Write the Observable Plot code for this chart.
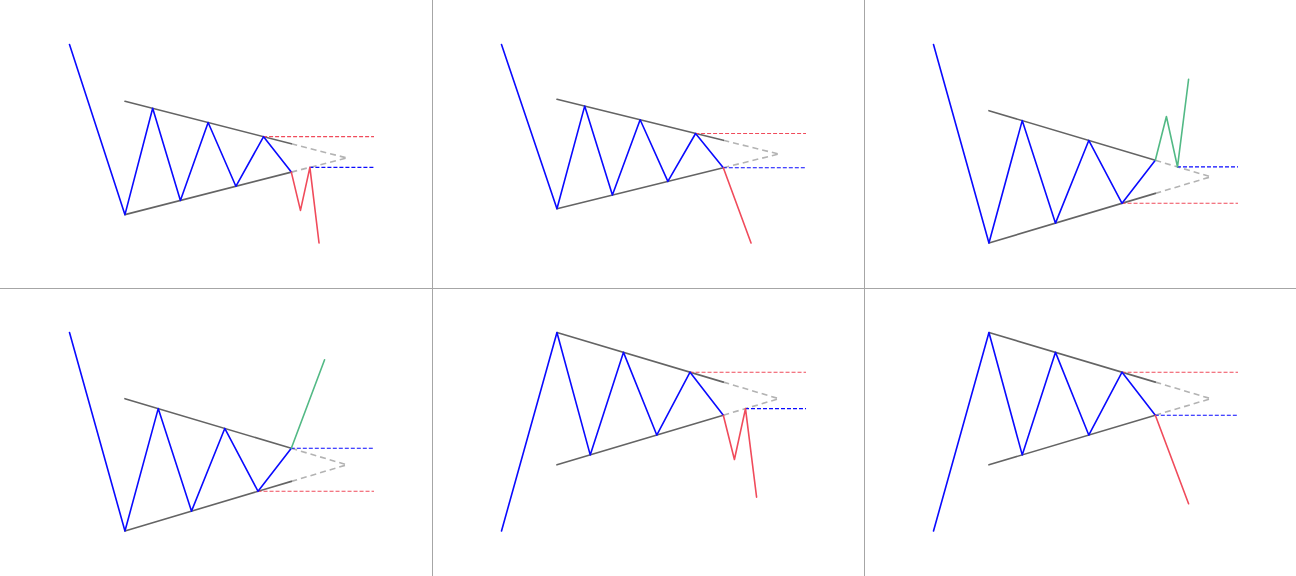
<!DOCTYPE html>
<html>
<head>
<meta charset="utf-8">
<script src="https://cdn.jsdelivr.net/npm/d3@7"></script>
<script src="https://cdn.jsdelivr.net/npm/@observablehq/plot@0.6"></script>
<style>
  html, body { margin: 0; padding: 0; background: #fff; }
  #wrap { position: relative; width: 1296px; height: 576px; overflow: hidden; background: #fff; }
  #wrap svg { position: absolute; }
  .sep { position: absolute; background: #a6a6a6; }
</style>
</head>
<body>
<div id="wrap"></div>
<script>
// ---- Panel 1 (top left): symmetrical triangle, bearish break with retest
const p1PathX = [0, 2, 3, 4, 5, 6, 7, 8];
const p1PathY = [16, -8, 7, -6, 5, -4, 3, -2];
const p1BreakX = [8, 8.33, 8.67, 9];
const p1BreakY = [-2, -7.4, -1.33, -12];
const p1BreakColor = "red";
const p1Levels = [ {y: 3, x1: 7, x2: 11, c: "red"}, {y: -1.33, x1: 8.67, x2: 11, c: "blue"} ];

// ---- Panel 2 (top middle): bearish break, no retest
const p2PathX = [0, 2, 3, 4, 5, 6, 7, 8];
const p2PathY = [16, -8, 7, -6, 5, -4, 3, -2];
const p2BreakX = [8, 9];
const p2BreakY = [-2, -13];
const p2BreakColor = "red";
const p2Levels = [ {y: 3, x1: 7, x2: 11, c: "red"}, {y: -2, x1: 8, x2: 11, c: "blue"} ];

// ---- Panel 3 (top right): bullish break with retest
const p3PathX = [0, 2, 3.2, 4.4, 5.6, 6.8, 8];
const p3PathY = [16, -8, 6.8, -5.6, 4.4, -3.2, 2];
const p3BreakX = [8, 8.4, 8.8, 9.2];
const p3BreakY = [2, 7.3, 1.2, 11.8];
const p3BreakColor = "green";
const p3Levels = [ {y: 1.2, x1: 8.8, x2: 11, c: "blue"}, {y: -3.2, x1: 6.8, x2: 11, c: "red"} ];

// ---- Panel 4 (bottom left): bullish break, no retest
const p4PathX = [0, 2, 3.2, 4.4, 5.6, 6.8, 8];
const p4PathY = [16, -8, 6.8, -5.6, 4.4, -3.2, 2];
const p4BreakX = [8, 9.2];
const p4BreakY = [2, 12.7];
const p4BreakColor = "green";
const p4Levels = [ {y: 2, x1: 8, x2: 11, c: "blue"}, {y: -3.2, x1: 6.8, x2: 11, c: "red"} ];

// ---- Panel 5 (bottom middle): uptrend into triangle, bearish break with retest
const p5PathX = [0, 2, 3.2, 4.4, 5.6, 6.8, 8];
const p5PathY = [-16, 8, -6.8, 5.6, -4.4, 3.2, -2];
const p5BreakX = [8, 8.4, 8.8, 9.2];
const p5BreakY = [-2, -7.35, -1.2, -11.9];
const p5BreakColor = "red";
const p5Levels = [ {y: 3.2, x1: 6.8, x2: 11, c: "red"}, {y: -1.2, x1: 8.8, x2: 11, c: "blue"} ];

// ---- Panel 6 (bottom right): uptrend into triangle, bearish break, no retest
const p6PathX = [0, 2, 3.2, 4.4, 5.6, 6.8, 8];
const p6PathY = [-16, 8, -6.8, 5.6, -4.4, 3.2, -2];
const p6BreakX = [8, 9.2];
const p6BreakY = [-2, -12.7];
const p6BreakColor = "red";
const p6Levels = [ {y: 3.2, x1: 6.8, x2: 11, c: "red"}, {y: -2, x1: 8, x2: 11, c: "blue"} ];

// Triangle trend lines (shared): solid from x=2 to x=8, dashed projection to apex at x=10
const trendUpperX = [2, 8];
const trendUpperY = [8, 2];
const trendLowerX = [2, 8];
const trendLowerY = [-8, -2];
const apexX = 10;
const apexY = 0;
const xDomain = [0, 11];

const COLORS = { blue: "#0a0aff", red: "#f04b5b", green: "#52b985", trend: "#646464", proj: "#b3b3b3" };

function zip(X, Y) { return X.map((x, i) => ({x, y: Y[i]})); }

function panel(pathX, pathY, breakX, breakY, breakColor, levels) {
  const path = zip(pathX, pathY);
  const brk = zip(breakX, breakY);
  const upper = zip(trendUpperX, trendUpperY);
  const lower = zip(trendLowerX, trendLowerY);
  const projU = [upper[upper.length - 1], {x: apexX, y: apexY}];
  const projL = [lower[lower.length - 1], {x: apexX, y: apexY}];
  const ys = pathY.concat(breakY, trendUpperY, trendLowerY, levels.map(d => d.y));
  const yDomain = d3.extent(ys);
  return Plot.plot({
    width: 432,
    height: 288,
    marginLeft: 69,
    marginRight: 58,
    marginTop: 44,
    marginBottom: 45.5,
    x: {domain: xDomain, axis: null},
    y: {domain: yDomain, axis: null},
    marks: [
      Plot.line(projU, {x: "x", y: "y", stroke: COLORS.proj, strokeWidth: 1.6, strokeDasharray: "6,4", strokeLinecap: "butt"}),
      Plot.line(projL, {x: "x", y: "y", stroke: COLORS.proj, strokeWidth: 1.6, strokeDasharray: "6,4", strokeLinecap: "butt"}),
      Plot.line(upper, {x: "x", y: "y", stroke: COLORS.trend, strokeWidth: 1.6}),
      Plot.line(lower, {x: "x", y: "y", stroke: COLORS.trend, strokeWidth: 1.6}),
      Plot.ruleY(levels, {y: "y", x1: "x1", x2: "x2", stroke: d => COLORS[d.c], strokeWidth: 1.1, strokeDasharray: "4,2"}),
      Plot.line(path, {x: "x", y: "y", stroke: COLORS.blue, strokeWidth: 1.6}),
      Plot.line(brk, {x: "x", y: "y", stroke: COLORS[breakColor], strokeWidth: 1.6})
    ]
  });
}

const wrap = document.getElementById("wrap");
const specs = [
  [p1PathX, p1PathY, p1BreakX, p1BreakY, p1BreakColor, p1Levels],
  [p2PathX, p2PathY, p2BreakX, p2BreakY, p2BreakColor, p2Levels],
  [p3PathX, p3PathY, p3BreakX, p3BreakY, p3BreakColor, p3Levels],
  [p4PathX, p4PathY, p4BreakX, p4BreakY, p4BreakColor, p4Levels],
  [p5PathX, p5PathY, p5BreakX, p5BreakY, p5BreakColor, p5Levels],
  [p6PathX, p6PathY, p6BreakX, p6BreakY, p6BreakColor, p6Levels]
];
specs.forEach((s, i) => {
  const svg = panel(...s);
  svg.style.left = (i % 3) * 432 + "px";
  svg.style.top = Math.floor(i / 3) * 288 + "px";
  svg.style.background = "transparent";
  wrap.appendChild(svg);
});
// panel separators
[[432, 0, 1, 576], [864, 0, 1, 576], [0, 288, 1296, 1]].forEach(([l, t, w, h]) => {
  const d = document.createElement("div");
  d.className = "sep";
  d.style.left = l + "px"; d.style.top = t + "px";
  d.style.width = w + "px"; d.style.height = h + "px";
  wrap.appendChild(d);
});
</script>
</body>
</html>
